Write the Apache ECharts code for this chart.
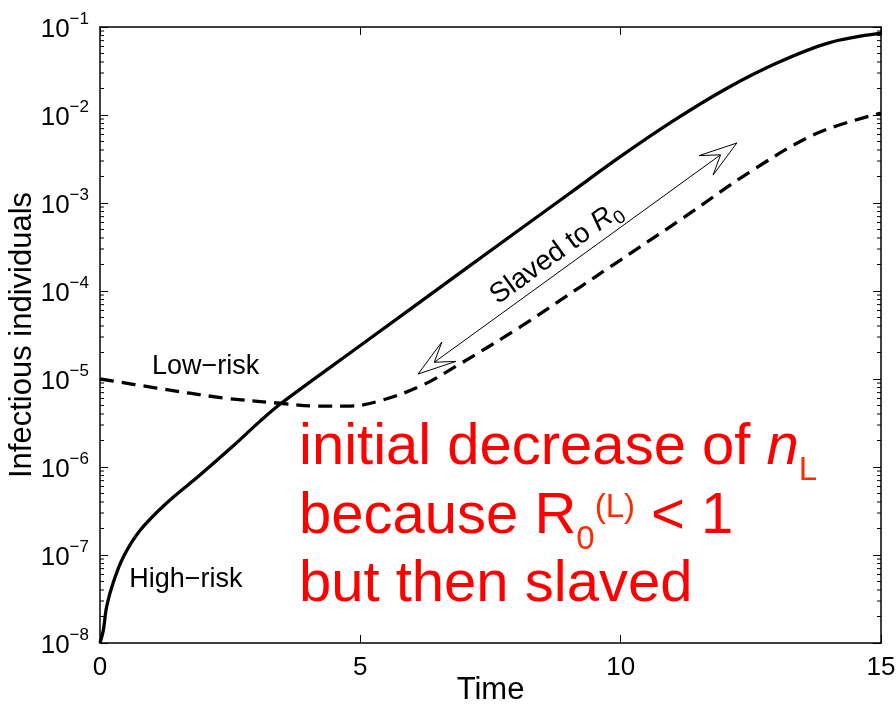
<!DOCTYPE html>
<html><head><meta charset="utf-8">
<script src="https://cdn.jsdelivr.net/npm/echarts@6/dist/echarts.min.js"></script>
<style>html,body{margin:0;padding:0;background:#fff}#c{width:896px;height:708px}</style>
</head><body><div id="c"></div>
<script>
// ---- data ----
const highX = [0, 0.064, 0.128, 0.256, 0.448, 0.768, 1.28, 1.92, 2.56, 3.07, 3.5, 5, 7, 9.03, 10, 11, 12, 13, 14, 15];
const highY = [1e-8, 1.4e-8, 2.6e-8, 4.9e-8, 9.5e-8, 1.9e-7, 3.9e-7, 8.1e-7, 1.74e-6, 3.3e-6, 5.4e-6, 2.4e-5, 1.75e-4, 1.3e-3, 3.38e-3, 8.5e-3, 1.95e-2, 3.89e-2, 6.6e-2, 8.5e-2];
const lowX = [0, 1.09, 2.36, 3.46, 4.17, 4.8, 5.43, 6.2, 6.91, 8.07, 9.22, 9.85, 11.14, 12.54, 13.77, 15];
const lowY = [1.0e-5, 7.9e-6, 6.1e-6, 5.3e-6, 4.93e-6, 4.93e-6, 5.77e-6, 8.55e-6, 1.48e-5, 3.9e-5, 1.11e-4, 1.97e-4, 6.4e-4, 2.37e-3, 6.2e-3, 1.05e-2];
const xTicks = [0, 5, 10, 15];
const yDecades = [-8, -7, -6, -5, -4, -3, -2, -1];
const minorMultipliers = [2, 3, 4, 5, 6, 7, 8, 9];
const labelLow = 'Low−risk';
const labelHigh = 'High−risk';
// annotation anchors (data coordinates)
const lowLabelAt = [1.0, 1.37e-5];
const highLabelAt = [0.56, 5.2e-8];
const arrowFrom = [6.11, 1.14e-5];
const arrowTo = [12.23, 4.8e-3];

const FONT = "'Liberation Sans', Arial, Helvetica, sans-serif";
const lg = v => Math.log10(v);
const minorExp = [];
yDecades.slice(0, -1).forEach(d => minorMultipliers.forEach(m => minorExp.push(lg(m * Math.pow(10, d)))));

const chart = echarts.init(document.getElementById('c'), null, {renderer: 'canvas'});

const axisLineStyle = {show: true, onZero: false, lineStyle: {color: '#000', width: 1.5}};
const tickStyle = {show: true, inside: true, length: 8, lineStyle: {color: '#000', width: 1}};
const yMinE = yDecades[0], yMaxE = yDecades[yDecades.length - 1];

const option = {
  animation: false,
  backgroundColor: '#fff',
  textStyle: {fontFamily: FONT, color: '#000'},
  grid: {left: 100, right: 15, top: 27, bottom: 65, containLabel: false, outerBoundsMode: 'none'},
  xAxis: [
    {type: 'value', min: xTicks[0], max: xTicks[xTicks.length - 1], interval: xTicks[1] - xTicks[0], position: 'bottom',
     name: 'Time', nameLocation: 'middle', nameGap: 32, nameMoveOverlap: false,
     nameTextStyle: {fontSize: 31, color: '#000', fontFamily: FONT},
     axisLine: axisLineStyle, axisTick: tickStyle,
     axisLabel: {fontSize: 26, color: '#000', margin: 12, fontFamily: FONT},
     splitLine: {show: false}},
    {type: 'value', min: xTicks[0], max: xTicks[xTicks.length - 1], interval: xTicks[1] - xTicks[0], position: 'top',
     axisLine: axisLineStyle, axisTick: tickStyle, axisLabel: {show: false}, splitLine: {show: false}}
  ],
  yAxis: [
    {type: 'value', min: yMinE, max: yMaxE, interval: 1, position: 'left',
     name: 'Infectious individuals', nameLocation: 'middle', nameGap: 62, nameMoveOverlap: false,
     nameTextStyle: {fontSize: 31, color: '#000', fontFamily: FONT},
     axisLine: axisLineStyle, axisTick: tickStyle,
     axisLabel: {
       margin: 11, showMinLabel: true, showMaxLabel: true,
       formatter: v => '{b|10}{s|−' + Math.abs(Math.round(v)) + '}',
       rich: {
         b: {fontSize: 26, color: '#000', fontFamily: FONT, padding: [5, 0, 0, 0], verticalAlign: 'middle'},
         s: {fontSize: 17, color: '#000', fontFamily: FONT, padding: [0, 0, 16, 0], verticalAlign: 'middle'}
       }
     },
     splitLine: {show: false}},
    {type: 'value', min: yMinE, max: yMaxE, interval: 1, position: 'right',
     axisLine: axisLineStyle, axisTick: tickStyle, axisLabel: {show: false}, splitLine: {show: false}}
  ],
  series: [
    {type: 'line', name: 'High-risk', xAxisIndex: 0, yAxisIndex: 0,
     data: highX.map((x, i) => [x, lg(highY[i])]), showSymbol: false, smooth: 0.35,
     lineStyle: {color: '#000', width: 3.3}, z: 3},
    {type: 'line', name: 'Low-risk', xAxisIndex: 0, yAxisIndex: 0,
     data: lowX.map((x, i) => [x, lg(lowY[i])]), showSymbol: false, smooth: 0.35,
     lineStyle: {color: '#000', width: 3.3, type: [14, 8], cap: 'butt'}, z: 3},
    {type: 'custom', xAxisIndex: 0, yAxisIndex: 0, silent: true, clip: false,
     data: minorExp.map(e => [xTicks[0], e]),
     encode: {x: 0, y: 1},
     renderItem: (params, api) => {
       const p = api.coord([api.value(0), api.value(1)]);
       const cs = params.coordSys;
       const st = {stroke: '#000', lineWidth: 1};
       return {type: 'group', children: [
         {type: 'line', shape: {x1: cs.x, y1: p[1], x2: cs.x + 4, y2: p[1]}, style: st},
         {type: 'line', shape: {x1: cs.x + cs.width - 4, y1: p[1], x2: cs.x + cs.width, y2: p[1]}, style: st}
       ]};
     }}
  ]
};
chart.setOption(option);

// ---- annotations ----
const px = d => chart.convertToPixel({xAxisIndex: 0, yAxisIndex: 0}, [d[0], lg(d[1])]);
const pLow = px(lowLabelAt), pHigh = px(highLabelAt);
const a1 = px(arrowFrom), a2 = px(arrowTo);
const dx = a2[0] - a1[0], dy = a2[1] - a1[1];
const len = Math.hypot(dx, dy);
const ux = dx / len, uy = dy / len;   // unit vector a1 -> a2
const nx = uy, ny = -ux;              // normal pointing up-left
function head(tip, dxu, dyu) {
  const L = 38, W = 12, N = 20;
  const qx = -dyu, qy = dxu;
  return {type: 'polygon', z: 20,
    shape: {points: [
      [tip[0], tip[1]],
      [tip[0] - dxu * L + qx * W, tip[1] - dyu * L + qy * W],
      [tip[0] - dxu * N, tip[1] - dyu * N],
      [tip[0] - dxu * L - qx * W, tip[1] - dyu * L - qy * W]
    ]},
    style: {fill: '#fff', stroke: '#000', lineWidth: 1}};
}
const mid = [(a1[0] + a2[0]) / 2, (a1[1] + a2[1]) / 2];
const textC = [mid[0] - ux * 14 + nx * 17, mid[1] - uy * 14 + ny * 17];
const angle = Math.atan2(-dy, dx);

const RED = '#ff0000';
const RED2 = '#ff2a00';
const RFS = 58;
const redRich = {
  m: {fontSize: RFS, fill: RED, fontFamily: FONT, verticalAlign: 'middle'},
  i: {fontSize: RFS, fill: RED, fontFamily: FONT, fontStyle: 'italic', verticalAlign: 'middle'},
  s: {fontSize: 33, fill: RED2, fontFamily: FONT, padding: [46, 0, 0, 0], verticalAlign: 'middle'},
  p: {fontSize: 33, fill: RED2, fontFamily: FONT, padding: [0, 0, 17, 0], verticalAlign: 'middle'}
};
const redLeft = 299;
const redBaselines = [468, 537, 605];
const redLines = ['{m|initial decrease of }{i|n}{s|L}', '{m|because R}{s|0}{p|(L)}{m| < 1}', '{m|but then slaved}'];

chart.setOption({
  graphic: [
    {type: 'text', x: pLow[0], y: pLow[1], z: 20,
     style: {text: labelLow, fontSize: 27, fontFamily: FONT, fill: '#000', align: 'left', verticalAlign: 'middle'}},
    {type: 'text', x: pHigh[0], y: pHigh[1], z: 20,
     style: {text: labelHigh, fontSize: 27, fontFamily: FONT, fill: '#000', align: 'left', verticalAlign: 'middle'}},
    {type: 'line', z: 19, shape: {x1: a1[0], y1: a1[1], x2: a2[0], y2: a2[1]}, style: {stroke: '#000', lineWidth: 1}},
    head(a2, ux, uy),
    head(a1, -ux, -uy),
    {type: 'text', x: textC[0], y: textC[1], rotation: angle, z: 20,
     style: {text: '{a|Slaved to }{r|R}{s|0}', align: 'center', verticalAlign: 'middle',
       rich: {
         a: {fontSize: 28, fontFamily: FONT, fill: '#000', verticalAlign: 'middle'},
         r: {fontSize: 28, fontFamily: FONT, fontStyle: 'italic', fill: '#000', verticalAlign: 'middle'},
         s: {fontSize: 19, fontFamily: FONT, fill: '#000', padding: [18, 0, 0, 0], verticalAlign: 'middle'}
       }}},
    ...redLines.map((t, k) => ({type: 'text', x: redLeft, y: redBaselines[k] - 0.3465 * RFS, z: 20,
      style: {text: t, align: 'left', verticalAlign: 'middle', rich: redRich}}))
  ]
});
</script></body></html>
